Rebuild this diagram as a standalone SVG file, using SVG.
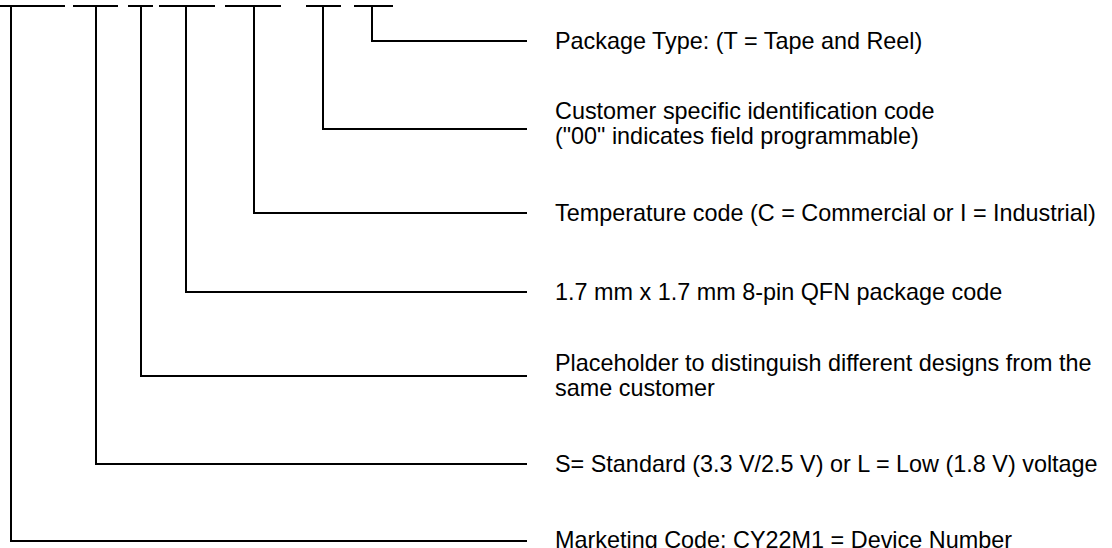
<svg xmlns="http://www.w3.org/2000/svg" width="1112" height="548" viewBox="0 0 1112 548">
<style>
.ln{fill:none;stroke:#000;stroke-width:2}
.t{font-family:"Liberation Sans",Arial,sans-serif;font-size:23.4px;fill:#000}
</style>
<rect width="1112" height="548" fill="#fff"/>
<g id="part-number-fields">
<path class="ln" d="M0 6H65M73 6H118M128 6H153M159 6H215M225 6H281M306 6H341M354 6H393"/>
</g>
<g id="connectors">
<path class="ln" d="M372 6V41H527"/>
<path class="ln" d="M323 6V129H527"/>
<path class="ln" d="M254 6V213H527"/>
<path class="ln" d="M186 6V292H527"/>
<path class="ln" d="M141 6V376H527"/>
<path class="ln" d="M96 6V464H527"/>
<path class="ln" d="M11 6V541H527"/>
</g>
<g id="package-type"><text class="t" x="555" y="49">Package Type: (T = Tape and Reel)</text></g>
<g id="customer-code"><text class="t" x="555" y="119">Customer specific identification code</text><text class="t" x="555" y="144">("00" indicates field programmable)</text></g>
<g id="temperature-code"><text class="t" x="555" y="221">Temperature code (C = Commercial or I = Industrial)</text></g>
<g id="package-code"><text class="t" x="555" y="300">1.7 mm x 1.7 mm 8-pin QFN package code</text></g>
<g id="placeholder"><text class="t" x="555" y="371">Placeholder to distinguish different designs from the</text><text class="t" x="555" y="396">same customer</text></g>
<g id="voltage"><text class="t" x="555" y="472">S= Standard (3.3 V/2.5 V) or L = Low (1.8 V) voltage</text></g>
<g id="marketing-code"><text class="t" x="555" y="548">Marketing Code: CY22M1 = Device Number</text></g>
</svg>
